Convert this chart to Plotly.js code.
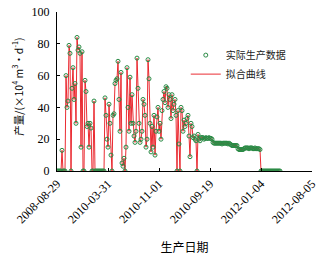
<!DOCTYPE html>
<html><head><meta charset="utf-8">
<script src="https://cdn.plot.ly/plotly-3.0.1.min.js"></script>
<style>html,body{margin:0;padding:0;background:#fff}#c{width:328px;height:256px}</style>
</head><body><div id="c"></div>
<script>
const tickLabels = ["2008-08-29","2010-03-31","2010-11-01","2010-09-19","2012-01-04","2012-08-05"];
const tickPositions = [0,51,102,153,204,255];
const production = [
0,0,0,0,0,
13,0,0,0,
60,40,44,79,74,
0,52,65,45,55,
30,84,76,78,74,
15,75,0,0,57,
50,28,30,15,30,
27,0,0,44,0,
0,0,0,0,0,
0,0,0,0,46,
35,20,15,42,30,
10,0,35,36,55,
57,58,69,45,25,
62,5,3,8,0,
15,65,40,25,59,
30,48,30,22,18,
25,71,52,30,18,
20,25,45,42,35,
15,20,70,58,30,
12,28,15,35,10,
25,34,40,25,30,
20,38,45,50,43,
53,52,40,48,45,
33,48,38,42,45,
35,0,38,17,0,
40,38,25,32,28,
30,33,35,22,9,
30,28,21,22,20,
19,0,23,20,19,
21,21,21,20,20.5,
21,20.5,20.5,21,20.5,
20.5,20,18,17.5,17.5,
17.5,17.5,17.5,17.5,17.5,
17.5,17,17.5,17.5,17.5,
17.5,17.5,17,17.5,17,
16.5,16,16,16,16,
16,16,14,13.5,13.5,
13.5,13.5,13.5,14,14.5,
14.5,14.5,14.5,14,14.5,
14.5,14.5,14,14,14.5,
14,14,14,14,13.5,
0,0,0,0,0,
0,0,0,0,0,
0,0,0,0,0,
0,0,0,0,0
];
const fitted = production.slice();
const idx = production.map((v,i)=>i);
const yTitle = '产量/(×10<sup>4</sup> m<sup>3</sup>·d<sup>-1</sup>)';

const serif = "Liberation Serif, Times New Roman, serif";
const cjk = "Noto Sans CJK SC, sans-serif";

const traces = [
  {x: idx, y: fitted, type:'scatter', mode:'lines', name:'拟合曲线',
   line:{color:'#e8141c', width:0.9}},
  {x: idx, y: production, type:'scatter', mode:'markers', name:'实际生产数据',
   marker:{symbol:'circle-open', size:4, color:'#2a8a45', line:{width:1, color:'#2a8a45'}}}
];

const layout = {
  width:328, height:256,
  margin:{l:57, r:16, t:12, b:85},
  paper_bgcolor:'#fff', plot_bgcolor:'#fff',
  showlegend:true,
  legend:{x:0.505, y:0.82, xanchor:'left', yanchor:'top', traceorder:'reversed',
    bgcolor:'rgba(0,0,0,0)', font:{family:cjk, size:10, color:'#222'}, itemwidth:30},
  xaxis:{range:[0,255], tickvals:tickPositions, ticktext:tickLabels, tickangle:-45,
    ticks:'inside', ticklen:3, tickcolor:'#000', showline:true, linecolor:'#000', linewidth:1,
    showgrid:false, zeroline:false, tickfont:{family:serif, size:12, color:'#000'},
    title:{text:'生产日期', font:{family:cjk, size:12, color:'#000'}, standoff:18}},
  yaxis:{range:[0,100], dtick:20, ticks:'inside', ticklen:3, tickcolor:'#000',
    showline:true, linecolor:'#000', linewidth:1, showgrid:false, zeroline:false,
    tickfont:{family:serif, size:12, color:'#000'}, ticklabelstandoff:4},
  annotations:[{text:yTitle, xref:'paper', yref:'paper', x:-0.157, y:0.53,
    xanchor:'center', yanchor:'middle', textangle:-90, showarrow:false,
    font:{family:cjk, size:10.5, color:'#000'}}]
};
Plotly.newPlot('c', traces, layout, {displayModeBar:false, staticPlot:true});
</script></body></html>
